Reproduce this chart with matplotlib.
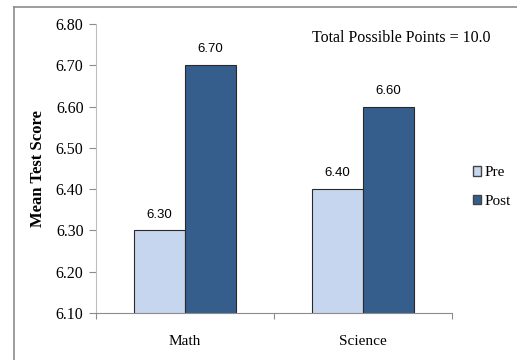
import matplotlib.pyplot as plt
import numpy as np
from matplotlib.lines import Line2D
from matplotlib.patches import Patch

categories = ['Math', 'Science']
pre_scores = [6.30, 6.40]
post_scores = [6.70, 6.60]
y_ticks = [6.10, 6.20, 6.30, 6.40, 6.50, 6.60, 6.70, 6.80]

pre_color = '#C6D6EE'
post_color = '#355E8D'
grey = '#8C8C8C'

fig = plt.figure(figsize=(5.17, 3.6), dpi=100)
ax = fig.add_axes([0.1857, 0.1306, 0.6886, 0.8027])

x = np.arange(len(categories))
w = 0.287
ax.bar(x - w / 2, pre_scores, w, color=pre_color, edgecolor='#2A2A2A', linewidth=0.8)
ax.bar(x + w / 2, post_scores, w, color=post_color, edgecolor='#2A2A2A', linewidth=0.8)

# value labels
for xi, v in zip(x - w / 2, pre_scores):
    ax.text(xi, v + 0.024, f'{v:.2f}', ha='center', va='bottom',
            family='Liberation Sans', fontsize=9.5)
for xi, v in zip(x + w / 2, post_scores):
    ax.text(xi, v + 0.024, f'{v:.2f}', ha='center', va='bottom',
            family='Liberation Sans', fontsize=9.5)

ax.set_xlim(-0.5, 1.5)
ax.set_ylim(6.10, 6.80)
ax.set_yticks(y_ticks)
ax.set_yticklabels([f'{t:.2f}' for t in y_ticks], family='Liberation Serif', fontsize=11.5)
ax.set_xticks([-0.5, 0.5, 1.5])
ax.set_xticklabels([])
ax.set_xticks(x, minor=True)
ax.set_xticklabels(categories, minor=True, family='Liberation Serif', fontsize=11)
ax.tick_params(axis='x', which='minor', length=0, pad=16)
ax.tick_params(axis='x', which='major', length=4, color=grey, direction='out')
ax.tick_params(axis='y', length=5, color=grey, pad=4)

for s in ['top', 'right']:
    ax.spines[s].set_visible(False)
ax.spines['left'].set_color('#BEBEBE')
ax.spines['bottom'].set_color(grey)
ax.spines['left'].set_linewidth(0.8)
ax.spines['bottom'].set_linewidth(0.8)

ax.set_ylabel('Mean Test Score', family='Liberation Serif', fontweight='bold', fontsize=12)
ax.yaxis.set_label_coords(-0.14, 0.5)

fig.text(0.776, 0.894, 'Total Possible Points = 10.0', ha='center', va='center',
         family='Liberation Serif', fontsize=11.5)

ax.legend(handles=[Patch(facecolor=pre_color, edgecolor='#444444', label='Pre'),
                   Patch(facecolor=post_color, edgecolor='#444444', label='Post')],
          loc='center left', bbox_to_anchor=(1.02, 0.436), frameon=False,
          prop={'family': 'Liberation Serif', 'size': 11},
          handlelength=0.55, handleheight=0.55, handletextpad=0.2, labelspacing=1.0)

# chart border
fig.add_artist(Line2D([14 / 517, 14 / 517], [0, 1 - 7 / 360], color=grey, linewidth=1.2))
fig.add_artist(Line2D([14 / 517, 1], [1 - 7 / 360, 1 - 7 / 360], color=grey, linewidth=1.2))

fig.savefig('out.png', dpi=100)
